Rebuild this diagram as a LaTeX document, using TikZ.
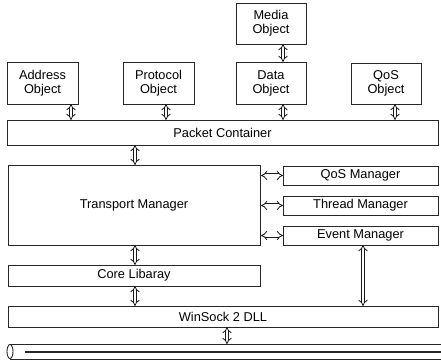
\documentclass[tikz,border=0pt]{standalone}
\usepackage{fontspec}
\setmainfont{Liberation Sans}
\usetikzlibrary{arrows.meta,shapes.geometric}
\begin{document}
\begin{tikzpicture}[x=1pt,y=-1pt,
  box/.style={draw=black!85,line width=0.75pt,inner sep=0pt,outer sep=0pt,anchor=north west,
    font=\fontsize{12.8}{14}\selectfont,align=center},
  dbl/.style={draw=black!90,line width=0.8pt,double=white,double distance=2.4pt,
    {Implies[length=2.4pt]}-{Implies[length=2.4pt]}}]
\useasboundingbox (0,0) rectangle (441,363);
% boxes
\node[box,minimum width=70pt,minimum height=41pt] (media) at (236,3) {Media\\Object};
\node[box,minimum width=71pt,minimum height=42pt] (addr) at (7,62) {Address\\Object};
\node[box,minimum width=71pt,minimum height=42pt] (proto) at (123,62) {Protocol\\Object};
\node[box,minimum width=70pt,minimum height=42pt] (data) at (236,62) {Data\\Object};
\node[box,minimum width=70pt,minimum height=41pt] (qosobj) at (351,63) {QoS\\Object};
\node[box,minimum width=431pt,minimum height=25pt] (packet) at (7,120) {Packet Container};
\node[box,minimum width=252pt,minimum height=80pt] (transport) at (8,165) {Transport Manager};
\node[box,minimum width=155pt,minimum height=19pt] (qosmgr) at (283,166) {QoS Manager};
\node[box,minimum width=155pt,minimum height=19pt] (thread) at (283,196) {Thread Manager};
\node[box,minimum width=155pt,minimum height=19pt] (event) at (283,226) {Event Manager};
\node[box,minimum width=252pt,minimum height=21pt] (core) at (8,265) {Core Libaray};
\node[box,minimum width=430pt,minimum height=21pt] (winsock) at (8,306) {WinSock 2 DLL};
% network pipe
\node[draw=black!85,line width=0.9pt,ellipse,minimum width=6pt,minimum height=14pt,inner sep=0pt] (net) at (10,351.5) {};
\coordinate (netend) at (441,351.5);
\draw[black!85,line width=0.7pt] (net.north) -- (net.north -| netend);
\draw[black!85,line width=0.7pt] (net.south) -- (net.south -| netend);
\coordinate (midstart) at (25,352);
\draw[black!85,line width=1.3pt] (midstart) -- (midstart -| netend);
% x positions of vertical arrows
\coordinate (xa) at (71,0);
\coordinate (xp) at (166,0);
\coordinate (xd) at (283,0);
\coordinate (xq) at (395,0);
\coordinate (xt) at (135,0);
\coordinate (xe) at (363,0);
\coordinate (xw) at (227,0);
\coordinate (xl) at (261,0);
% arrows
\draw[dbl] (media.south -| xd) -- (data.north -| xd);
\draw[dbl] (addr.south -| xa) -- (packet.north -| xa);
\draw[dbl] (proto.south -| xp) -- (packet.north -| xp);
\draw[dbl] (data.south -| xd) -- (packet.north -| xd);
\draw[dbl] (qosobj.south -| xq) -- (packet.north -| xq);
\draw[dbl] (packet.south -| xt) -- (transport.north -| xt);
\draw[dbl] (qosmgr.west -| xl) -- (qosmgr.west);
\draw[dbl] (thread.west -| xl) -- (thread.west);
\draw[dbl] (event.west -| xl) -- (event.west);
\draw[dbl] (transport.south -| xt) -- (core.north -| xt);
\draw[dbl] (core.south -| xt) -- (winsock.north -| xt);
\draw[dbl] (event.south -| xe) -- (winsock.north -| xe);
\draw[dbl] (winsock.south -| xw) -- (net.north -| xw);
\end{tikzpicture}
\end{document}
